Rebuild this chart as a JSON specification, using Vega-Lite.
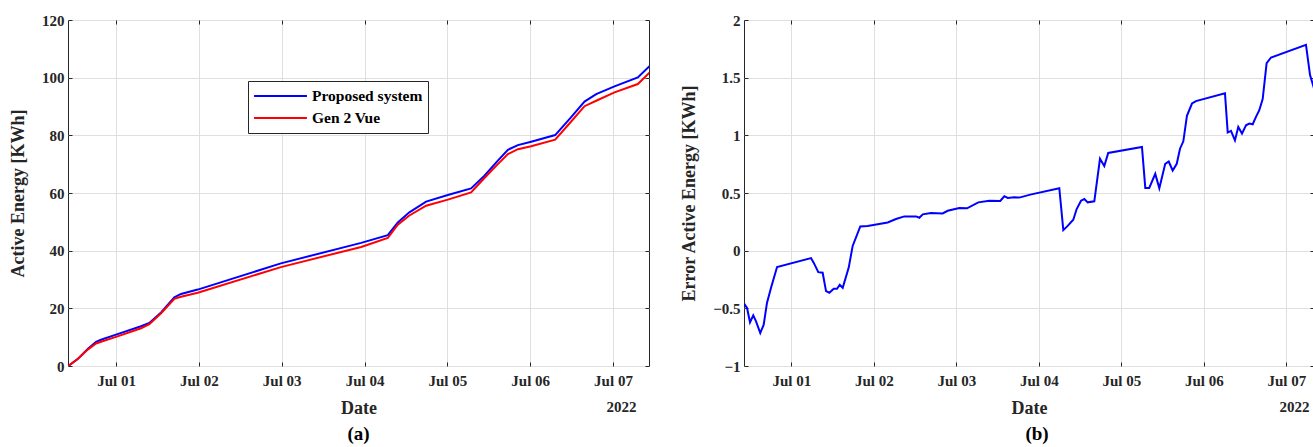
{
  "$schema": "https://vega.github.io/schema/vega-lite/v6.json",
  "background": "white",
  "padding": {"left": 9, "top": 12, "right": 0, "bottom": 0},
  "datasets": {
    "energy": [
      {"time": "2022-06-30T10:10", "series": "Proposed system", "energy": 0},
      {"time": "2022-06-30T12:53", "series": "Proposed system", "energy": 2.4},
      {"time": "2022-06-30T15:47", "series": "Proposed system", "energy": 5.9},
      {"time": "2022-06-30T18:13", "series": "Proposed system", "energy": 8.4},
      {"time": "2022-06-30T19:39", "series": "Proposed system", "energy": 9.1},
      {"time": "2022-07-01T00:00", "series": "Proposed system", "energy": 10.9},
      {"time": "2022-07-01T07:15", "series": "Proposed system", "energy": 13.8},
      {"time": "2022-07-01T09:39", "series": "Proposed system", "energy": 14.9},
      {"time": "2022-07-01T13:03", "series": "Proposed system", "energy": 18.6},
      {"time": "2022-07-01T16:54", "series": "Proposed system", "energy": 23.8},
      {"time": "2022-07-01T18:50", "series": "Proposed system", "energy": 25.0},
      {"time": "2022-07-01T23:41", "series": "Proposed system", "energy": 26.5},
      {"time": "2022-07-02T23:46", "series": "Proposed system", "energy": 35.6},
      {"time": "2022-07-03T23:02", "series": "Proposed system", "energy": 42.7},
      {"time": "2022-07-04T06:45", "series": "Proposed system", "energy": 45.4},
      {"time": "2022-07-04T09:39", "series": "Proposed system", "energy": 49.8},
      {"time": "2022-07-04T13:00", "series": "Proposed system", "energy": 53.3},
      {"time": "2022-07-04T17:51", "series": "Proposed system", "energy": 57.0},
      {"time": "2022-07-05T00:09", "series": "Proposed system", "energy": 59.3},
      {"time": "2022-07-05T06:53", "series": "Proposed system", "energy": 61.6},
      {"time": "2022-07-05T10:45", "series": "Proposed system", "energy": 66.0},
      {"time": "2022-07-05T14:38", "series": "Proposed system", "energy": 71.2},
      {"time": "2022-07-05T17:33", "series": "Proposed system", "energy": 75.0},
      {"time": "2022-07-05T20:27", "series": "Proposed system", "energy": 76.6},
      {"time": "2022-07-06T00:17", "series": "Proposed system", "energy": 77.8},
      {"time": "2022-07-06T07:15", "series": "Proposed system", "energy": 80.1},
      {"time": "2022-07-06T11:53", "series": "Proposed system", "energy": 86.3},
      {"time": "2022-07-06T15:45", "series": "Proposed system", "energy": 91.7},
      {"time": "2022-07-06T19:08", "series": "Proposed system", "energy": 94.3},
      {"time": "2022-07-07T00:26", "series": "Proposed system", "energy": 97.0},
      {"time": "2022-07-07T07:12", "series": "Proposed system", "energy": 100.1},
      {"time": "2022-07-07T10:34", "series": "Proposed system", "energy": 104.0},
      {"time": "2022-06-30T10:10", "series": "Gen 2 Vue", "energy": 0},
      {"time": "2022-06-30T12:53", "series": "Gen 2 Vue", "energy": 2.4},
      {"time": "2022-06-30T15:47", "series": "Gen 2 Vue", "energy": 5.7},
      {"time": "2022-06-30T18:13", "series": "Gen 2 Vue", "energy": 7.8},
      {"time": "2022-06-30T19:39", "series": "Gen 2 Vue", "energy": 8.4},
      {"time": "2022-07-01T00:00", "series": "Gen 2 Vue", "energy": 10.1},
      {"time": "2022-07-01T07:15", "series": "Gen 2 Vue", "energy": 13.1},
      {"time": "2022-07-01T09:39", "series": "Gen 2 Vue", "energy": 14.5},
      {"time": "2022-07-01T13:03", "series": "Gen 2 Vue", "energy": 18.3},
      {"time": "2022-07-01T16:54", "series": "Gen 2 Vue", "energy": 23.3},
      {"time": "2022-07-01T18:50", "series": "Gen 2 Vue", "energy": 24.0},
      {"time": "2022-07-01T23:41", "series": "Gen 2 Vue", "energy": 25.4},
      {"time": "2022-07-02T23:46", "series": "Gen 2 Vue", "energy": 34.3},
      {"time": "2022-07-03T23:02", "series": "Gen 2 Vue", "energy": 41.3},
      {"time": "2022-07-04T06:45", "series": "Gen 2 Vue", "energy": 44.4},
      {"time": "2022-07-04T09:39", "series": "Gen 2 Vue", "energy": 49.0},
      {"time": "2022-07-04T13:00", "series": "Gen 2 Vue", "energy": 52.2},
      {"time": "2022-07-04T17:51", "series": "Gen 2 Vue", "energy": 55.6},
      {"time": "2022-07-05T00:09", "series": "Gen 2 Vue", "energy": 57.7},
      {"time": "2022-07-05T06:53", "series": "Gen 2 Vue", "energy": 60.2},
      {"time": "2022-07-05T10:45", "series": "Gen 2 Vue", "energy": 65.2},
      {"time": "2022-07-05T14:38", "series": "Gen 2 Vue", "energy": 70.0},
      {"time": "2022-07-05T17:33", "series": "Gen 2 Vue", "energy": 73.5},
      {"time": "2022-07-05T20:27", "series": "Gen 2 Vue", "energy": 75.2},
      {"time": "2022-07-06T00:17", "series": "Gen 2 Vue", "energy": 76.2},
      {"time": "2022-07-06T07:15", "series": "Gen 2 Vue", "energy": 78.5},
      {"time": "2022-07-06T11:53", "series": "Gen 2 Vue", "energy": 84.8},
      {"time": "2022-07-06T15:45", "series": "Gen 2 Vue", "energy": 90.1},
      {"time": "2022-07-06T19:08", "series": "Gen 2 Vue", "energy": 92.0},
      {"time": "2022-07-07T00:26", "series": "Gen 2 Vue", "energy": 94.9},
      {"time": "2022-07-07T07:12", "series": "Gen 2 Vue", "energy": 97.8},
      {"time": "2022-07-07T10:34", "series": "Gen 2 Vue", "energy": 101.7}
    ],
    "err": [
      {"time": "2022-06-30T10:19", "error": -0.461},
      {"time": "2022-06-30T11:07", "error": -0.497},
      {"time": "2022-06-30T11:59", "error": -0.621},
      {"time": "2022-06-30T12:56", "error": -0.561},
      {"time": "2022-06-30T13:44", "error": -0.613},
      {"time": "2022-06-30T14:58", "error": -0.714},
      {"time": "2022-06-30T15:58", "error": -0.642},
      {"time": "2022-06-30T16:55", "error": -0.453},
      {"time": "2022-06-30T18:06", "error": -0.322},
      {"time": "2022-06-30T19:51", "error": -0.142},
      {"time": "2022-07-01T05:44", "error": -0.064},
      {"time": "2022-07-01T06:30", "error": -0.104},
      {"time": "2022-07-01T07:51", "error": -0.186},
      {"time": "2022-07-01T09:07", "error": -0.191},
      {"time": "2022-07-01T10:06", "error": -0.351},
      {"time": "2022-07-01T11:04", "error": -0.365},
      {"time": "2022-07-01T12:20", "error": -0.330},
      {"time": "2022-07-01T13:18", "error": -0.330},
      {"time": "2022-07-01T14:05", "error": -0.296},
      {"time": "2022-07-01T14:57", "error": -0.322},
      {"time": "2022-07-01T16:42", "error": -0.147},
      {"time": "2022-07-01T17:51", "error": 0.041},
      {"time": "2022-07-01T20:04", "error": 0.210},
      {"time": "2022-07-01T22:13", "error": 0.213},
      {"time": "2022-07-02T04:02", "error": 0.245},
      {"time": "2022-07-02T06:27", "error": 0.274},
      {"time": "2022-07-02T08:53", "error": 0.297},
      {"time": "2022-07-02T12:17", "error": 0.297},
      {"time": "2022-07-02T13:15", "error": 0.285},
      {"time": "2022-07-02T14:14", "error": 0.315},
      {"time": "2022-07-02T16:38", "error": 0.326},
      {"time": "2022-07-02T20:02", "error": 0.323},
      {"time": "2022-07-02T21:30", "error": 0.346},
      {"time": "2022-07-03T00:52", "error": 0.370},
      {"time": "2022-07-03T03:07", "error": 0.367},
      {"time": "2022-07-03T06:24", "error": 0.419},
      {"time": "2022-07-03T09:36", "error": 0.433},
      {"time": "2022-07-03T12:47", "error": 0.431},
      {"time": "2022-07-03T13:58", "error": 0.472},
      {"time": "2022-07-03T14:57", "error": 0.457},
      {"time": "2022-07-03T16:52", "error": 0.463},
      {"time": "2022-07-03T18:20", "error": 0.460},
      {"time": "2022-07-03T21:32", "error": 0.486},
      {"time": "2022-07-04T05:58", "error": 0.541},
      {"time": "2022-07-04T07:08", "error": 0.178},
      {"time": "2022-07-04T08:24", "error": 0.215},
      {"time": "2022-07-04T10:02", "error": 0.268},
      {"time": "2022-07-04T11:01", "error": 0.361},
      {"time": "2022-07-04T12:17", "error": 0.433},
      {"time": "2022-07-04T13:15", "error": 0.448},
      {"time": "2022-07-04T14:14", "error": 0.419},
      {"time": "2022-07-04T16:09", "error": 0.428},
      {"time": "2022-07-04T17:48", "error": 0.797},
      {"time": "2022-07-04T19:03", "error": 0.733},
      {"time": "2022-07-04T20:12", "error": 0.847},
      {"time": "2022-07-05T06:01", "error": 0.899},
      {"time": "2022-07-05T06:59", "error": 0.544},
      {"time": "2022-07-05T08:08", "error": 0.544},
      {"time": "2022-07-05T09:53", "error": 0.666},
      {"time": "2022-07-05T11:04", "error": 0.541},
      {"time": "2022-07-05T12:47", "error": 0.753},
      {"time": "2022-07-05T13:48", "error": 0.773},
      {"time": "2022-07-05T14:57", "error": 0.695},
      {"time": "2022-07-05T16:08", "error": 0.753},
      {"time": "2022-07-05T17:05", "error": 0.884},
      {"time": "2022-07-05T18:03", "error": 0.948},
      {"time": "2022-07-05T19:06", "error": 1.169},
      {"time": "2022-07-05T20:34", "error": 1.276},
      {"time": "2022-07-05T21:43", "error": 1.297},
      {"time": "2022-07-06T06:10", "error": 1.364},
      {"time": "2022-07-06T06:58", "error": 1.024},
      {"time": "2022-07-06T07:55", "error": 1.038},
      {"time": "2022-07-06T09:04", "error": 0.956},
      {"time": "2022-07-06T10:02", "error": 1.073},
      {"time": "2022-07-06T11:07", "error": 1.015},
      {"time": "2022-07-06T12:17", "error": 1.087},
      {"time": "2022-07-06T13:15", "error": 1.102},
      {"time": "2022-07-06T14:14", "error": 1.096},
      {"time": "2022-07-06T15:11", "error": 1.160},
      {"time": "2022-07-06T16:09", "error": 1.218},
      {"time": "2022-07-06T17:08", "error": 1.314},
      {"time": "2022-07-06T18:17", "error": 1.625},
      {"time": "2022-07-06T19:34", "error": 1.675},
      {"time": "2022-07-07T05:44", "error": 1.785},
      {"time": "2022-07-07T06:55", "error": 1.523},
      {"time": "2022-07-07T08:04", "error": 1.407}
    ]
  },
  "spacing": 95,
  "bounds": "flush",
  "hconcat": [
    {
      "width": 581,
      "height": 346,
      "title": {"text": "(a)", "orient": "bottom", "offset": 8},
      "layer": [
        {
          "data": {"name": "energy"},
          "mark": {"type": "line", "strokeWidth": 2, "clip": true},
          "encoding": {
            "x": {
              "field": "time", "type": "temporal",
              "scale": {"domain": [{"year": 2022, "month": 6, "date": 30, "hours": 10, "minutes": 5}, {"year": 2022, "month": 7, "date": 7, "hours": 10, "minutes": 26}]},
              "axis": {"orient": "bottom", "title": "Date", "format": "%b %d", "tickCount": {"interval": "day", "step": 1}, "grid": true, "labelPadding": 11, "titlePadding": 11}
            },
            "y": {
              "field": "energy", "type": "quantitative",
              "scale": {"domain": [0, 120], "nice": false},
              "axis": {"orient": "left", "title": "Active Energy [KWh]", "values": [0, 20, 40, 60, 80, 100, 120], "grid": true, "labelPadding": 8, "titlePadding": 14}
            },
            "color": {
              "field": "series", "type": "nominal",
              "scale": {"domain": ["Proposed system", "Gen 2 Vue"], "range": ["#0000ff", "#ff0000"]},
              "legend": {"title": null}
            }
          }
        },
        {
          "data": {"name": "energy"},
          "mark": {"type": "line", "opacity": 0},
          "encoding": {
            "x": {
              "field": "time", "type": "temporal",
              "axis": {"orient": "top", "labels": false, "grid": false, "tickCount": {"interval": "day", "step": 1}, "title": "2022", "titleX": 553, "titleY": 391, "titleAlign": "center", "titleBaseline": "alphabetic", "titleFontSize": 15}
            },
            "y": {
              "field": "energy", "type": "quantitative",
              "axis": {"orient": "right", "labels": false, "grid": false, "values": [0, 20, 40, 60, 80, 100, 120], "title": null}
            },
            "detail": {"field": "series"}
          }
        }
      ],
      "resolve": {"axis": {"x": "independent", "y": "independent"}}
    },
    {
      "width": 570,
      "height": 346,
      "title": {"text": "(b)", "orient": "bottom", "offset": 8, "dx": 8},
      "layer": [
        {
          "data": {"name": "err"},
          "mark": {"type": "line", "strokeWidth": 2, "clip": true, "color": "#0000ff"},
          "encoding": {
            "x": {
              "field": "time", "type": "temporal",
              "scale": {"domain": [{"year": 2022, "month": 6, "date": 30, "hours": 10, "minutes": 14}, {"year": 2022, "month": 7, "date": 7, "hours": 8, "minutes": 4}]},
              "axis": {"orient": "bottom", "title": "Date", "format": "%b %d", "tickCount": {"interval": "day", "step": 1}, "grid": true, "labelPadding": 11, "titlePadding": 11}
            },
            "y": {
              "field": "error", "type": "quantitative",
              "scale": {"domain": [-1, 2], "nice": false},
              "axis": {"orient": "left", "title": "Error Active Energy [KWh]", "values": [-1, -0.5, 0, 0.5, 1, 1.5, 2], "format": "~g", "grid": true, "labelPadding": 8, "titlePadding": 14}
            }
          }
        },
        {
          "data": {"name": "err"},
          "mark": {"type": "line", "opacity": 0},
          "encoding": {
            "x": {
              "field": "time", "type": "temporal",
              "axis": {"orient": "top", "labels": false, "grid": false, "tickCount": {"interval": "day", "step": 1}, "title": "2022", "titleX": 550, "titleY": 391, "titleAlign": "center", "titleBaseline": "alphabetic", "titleFontSize": 15}
            },
            "y": {
              "field": "error", "type": "quantitative",
              "axis": {"orient": "right", "labels": false, "grid": false, "values": [-1, -0.5, 0, 0.5, 1, 1.5, 2], "title": null}
            }
          }
        }
      ],
      "resolve": {"axis": {"x": "independent", "y": "independent"}}
    }
  ],
  "config": {
    "font": "Liberation Serif",
    "view": {"stroke": "#262626", "strokeWidth": 1},
    "axis": {
      "labelFont": "Liberation Serif", "labelFontSize": 15, "labelFontWeight": "bold", "labelColor": "#262626",
      "titleFont": "Liberation Serif", "titleFontSize": 18, "titleFontWeight": "bold", "titleColor": "#262626",
      "domain": false, "tickColor": "#262626", "tickSize": -4, "tickWidth": 1,
      "gridColor": "#dfdfdf", "gridOpacity": 1, "gridWidth": 1, "labelPadding": 6
    },
    "legend": {
      "orient": "none", "legendX": 180, "legendY": 61,
      "strokeColor": "#262626", "fillColor": "white", "padding": 5,
      "symbolType": "stroke", "symbolSize": 2800, "symbolStrokeWidth": 2,
      "clipHeight": 20,
      "labelFont": "Liberation Serif", "labelFontSize": 15.5, "labelFontWeight": "bold", "labelColor": "#000000",
      "labelOffset": 4, "rowPadding": 2
    },
    "title": {"font": "Liberation Serif", "fontSize": 19, "fontWeight": "bold", "color": "#000000"}
  }
}
